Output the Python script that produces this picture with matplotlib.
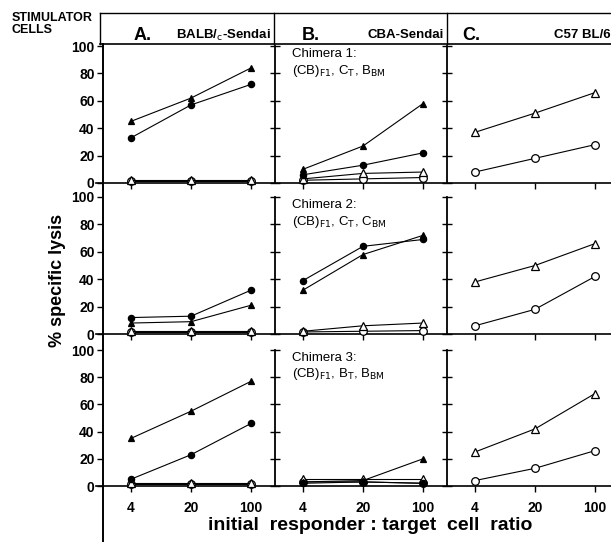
import matplotlib
matplotlib.use("Agg")
import matplotlib.pyplot as plt
from matplotlib.lines import Line2D

plt.rcParams['font.family'] = ['Liberation Sans', 'DejaVu Sans']

ratios = [4, 20, 100]
yticks = [0, 20, 40, 60, 80, 100]

# Row 1: Chimera 1
A1_filled_tri = [45, 62, 84]
A1_filled_circ = [33, 57, 72]
A1_open_tri = [2, 2, 2]
A1_open_circ = [1.5, 1.5, 1.5]
B1_filled_tri = [10, 27, 58]
B1_filled_circ = [6, 13, 22]
B1_open_tri = [3, 7, 8]
B1_open_circ = [2, 3, 4]
C1_open_tri = [37, 51, 66]
C1_open_circ = [8, 18, 28]

# Row 2: Chimera 2
A2_filled_tri = [8, 9, 21]
A2_filled_circ = [12, 13, 32]
A2_open_tri = [2, 2, 2]
A2_open_circ = [1.5, 1.5, 1.5]
B2_filled_tri = [32, 58, 72]
B2_filled_circ = [39, 64, 69]
B2_open_tri = [2, 6, 8]
B2_open_circ = [1.5, 2, 2.5]
C2_open_tri = [38, 50, 66]
C2_open_circ = [6, 18, 42]

# Row 3: Chimera 3
A3_filled_tri = [35, 55, 77]
A3_filled_circ = [5, 23, 46]
A3_open_tri = [2, 2, 2]
A3_open_circ = [1.5, 1.5, 1.5]
B3_filled_tri = [3, 4, 20]
B3_filled_circ = [2, 3, 2]
B3_open_tri = [5, 5, 5]
B3_open_circ = [3, 3, 2]
C3_open_tri = [25, 42, 68]
C3_open_circ = [4, 13, 26]

col_letters = ["A.", "B.", "C."]
col_names = ["BALB/$_{\\mathsf{c}}$-Sendai", "CBA-Sendai", "C57 BL/6"]
chimera_titles = ["Chimera 1:", "Chimera 2:", "Chimera 3:"]
chimera_desc = ["(CB)$_{\\mathsf{F1}}$, C$_{\\mathsf{T}}$, B$_{\\mathsf{BM}}$",
                "(CB)$_{\\mathsf{F1}}$, C$_{\\mathsf{T}}$, C$_{\\mathsf{BM}}$",
                "(CB)$_{\\mathsf{F1}}$, B$_{\\mathsf{T}}$, B$_{\\mathsf{BM}}$"]

panels = [
    [dict(ft=A1_filled_tri, fc=A1_filled_circ, ot=A1_open_tri, oc=A1_open_circ),
     dict(ft=B1_filled_tri, fc=B1_filled_circ, ot=B1_open_tri, oc=B1_open_circ),
     dict(ot=C1_open_tri, oc=C1_open_circ)],
    [dict(ft=A2_filled_tri, fc=A2_filled_circ, ot=A2_open_tri, oc=A2_open_circ),
     dict(ft=B2_filled_tri, fc=B2_filled_circ, ot=B2_open_tri, oc=B2_open_circ),
     dict(ot=C2_open_tri, oc=C2_open_circ)],
    [dict(ft=A3_filled_tri, fc=A3_filled_circ, ot=A3_open_tri, oc=A3_open_circ),
     dict(ft=B3_filled_tri, fc=B3_filled_circ, ot=B3_open_tri, oc=B3_open_circ),
     dict(ot=C3_open_tri, oc=C3_open_circ)],
]

W, H = 611, 542
fig = plt.figure(figsize=(W / 100, H / 100), dpi=100)

row_px = [(46, 183), (197, 334), (350, 486)]
col_px = [103, 275, 447]
pw = 172

styles = {
    'ft': dict(marker='^', mfc='black', ms=5),
    'fc': dict(marker='o', mfc='black', ms=4.5),
    'ot': dict(marker='^', mfc='white', ms=5.5),
    'oc': dict(marker='o', mfc='white', ms=5.5),
}

for r, (top, bot) in enumerate(row_px):
    for c, left in enumerate(col_px):
        ax = fig.add_axes([left / W, 1 - bot / H, pw / W, (bot - top) / H])
        ax.set_xscale('log')
        ax.set_xlim(1.89, 190)
        ax.set_ylim(0, 100)
        ax.patch.set_alpha(0)
        for s in ['top', 'right']:
            ax.spines[s].set_visible(False)
        ax.spines['bottom'].set_linewidth(1.2)
        ax.spines['left'].set_linewidth(1.3)
        ax.set_xticks(ratios)
        ax.minorticks_off()
        ax.set_yticks(yticks)
        if r == 2:
            ax.set_xticklabels([str(v) for v in ratios], fontsize=10, fontweight='bold')
        else:
            ax.set_xticklabels([])
        ax.tick_params(axis='x', direction='out', length=4, width=1, pad=7)
        if c == 0:
            ax.spines['left'].set_visible(False)
            ax.set_yticklabels([str(v) for v in yticks], fontsize=10, fontweight='bold')
            ax.tick_params(axis='y', direction='out', length=4, width=1, pad=2)
        else:
            ax.set_yticklabels([])
            ax.tick_params(axis='y', direction='inout', length=7, width=1)
        d = panels[r][c]
        for key in ['oc', 'ot', 'fc', 'ft']:
            if key in d:
                ax.plot(ratios, d[key], color='black', lw=0.8, mec='black', mew=0.9,
                        clip_on=False, zorder=3, **styles[key])
        if c == 1:
            ax.text(0.1, 0.94, chimera_titles[r], transform=ax.transAxes, fontsize=9.5,
                    va='center', ha='left')
            ax.text(0.1, 0.82, chimera_desc[r], transform=ax.transAxes, fontsize=9.5,
                    va='center', ha='left')

# continuous outer left axis
fig.add_artist(Line2D([103 / W, 103 / W], [1 - 44 / H, 0], color='black', lw=1.4))
# zero lines extending slightly left of axis
for top, bot in row_px:
    fig.add_artist(Line2D([96 / W, 103 / W], [1 - bot / H, 1 - bot / H], color='black', lw=1.2))

# header box
hy0, hy1 = 1 - 13 / H, 1 - 44 / H
fig.add_artist(Line2D([100 / W, 1], [hy0, hy0], color='black', lw=1.0))
fig.add_artist(Line2D([100 / W, 1], [hy1, hy1], color='black', lw=1.2))
fig.add_artist(Line2D([100 / W, 100 / W], [hy0, hy1], color='black', lw=1.0))
for xd in [274, 447]:
    fig.add_artist(Line2D([xd / W, xd / W], [hy0, hy1], color='black', lw=1.0))

fig.text(12 / W, 1 - 18 / H, "STIMULATOR", fontsize=9, fontweight='bold', va='center', ha='left')
fig.text(12 / W, 1 - 30 / H, "CELLS", fontsize=9, fontweight='bold', va='center', ha='left')

letter_x = [134, 302, 462]
name_x = [271, 444, 611]
for letter, name, lx, nx in zip(col_letters, col_names, letter_x, name_x):
    fig.text(lx / W, 1 - 35 / H, letter, fontsize=13, fontweight='bold', va='center', ha='left')
    fig.text(nx / W, 1 - 35 / H, name, fontsize=9.5, fontweight='bold', va='center', ha='right')

fig.text(57 / W, 1 - 280 / H, "% specific lysis", rotation=90, fontsize=13,
         fontweight='bold', va='center', ha='center')
fig.text(370 / W, 1 - 526 / H, "initial  responder : target  cell  ratio", fontsize=14,
         fontweight='bold', va='center', ha='center')

fig.savefig("out.png", dpi=100)
